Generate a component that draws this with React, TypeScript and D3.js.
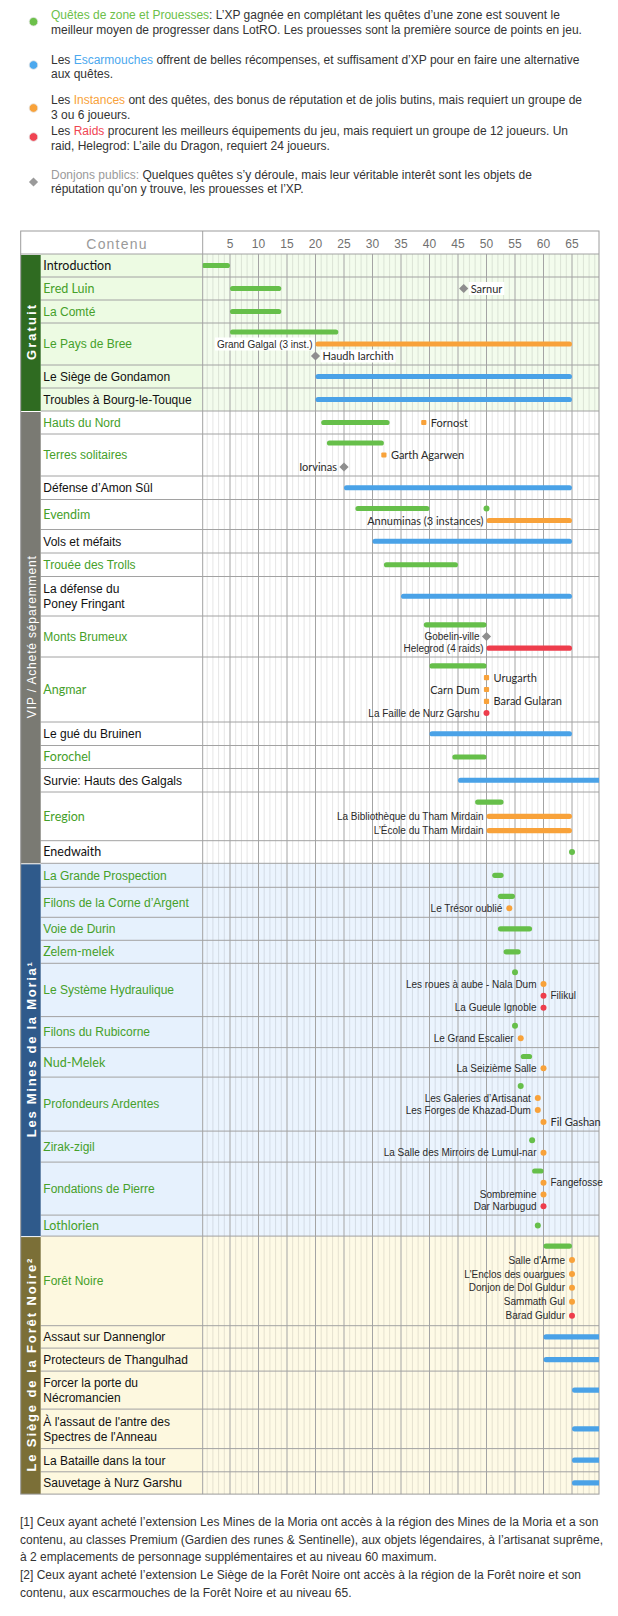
import React from 'react';
import * as d3 from 'd3';

// ---------- DATA ----------
const LEVEL_TICKS = [5, 10, 15, 20, 25, 30, 35, 40, 45, 50, 55, 60, 65];

const GROUPS = ['Gratuit', 'VIP / Acheté séparemment', 'Les Mines de la Moria¹', 'Le Siège de la Forêt Noire²'];

const ROWS = [
  'Introduction', 'Ered Luin', 'La Comté', 'Le Pays de Bree', 'Le Siège de Gondamon', 'Troubles à Bourg-le-Touque',
  'Hauts du Nord', 'Terres solitaires', 'Défense d’Amon Sûl', 'Evendim', 'Vols et méfaits', 'Trouée des Trolls',
  'La défense du\nPoney Fringant', 'Monts Brumeux', 'Angmar', 'Le gué du Bruinen', 'Forochel', 'Survie: Hauts des Galgals',
  'Eregion', 'Enedwaith',
  'La Grande Prospection', 'Filons de la Corne d’Argent', 'Voie de Durin', 'Zelem-melek', 'Le Système Hydraulique',
  'Filons du Rubicorne', 'Nud-Melek', 'Profondeurs Ardentes', 'Zirak-zigil', 'Fondations de Pierre', 'Lothlorien',
  'Forêt Noire', 'Assaut sur Dannenglor', 'Protecteurs de Thangulhad', 'Forcer la porte du\nNécromancien',
  "À l'assaut de l'antre des\nSpectres de l'Anneau", 'La Bataille dans la tour', 'Sauvetage à Nurz Garshu',
];
const ROW_GROUP = [0, 0, 0, 0, 0, 0, 1, 1, 1, 1, 1, 1, 1, 1, 1, 1, 1, 1, 1, 1, 2, 2, 2, 2, 2, 2, 2, 2, 2, 2, 2, 3, 3, 3, 3, 3, 3, 3];
// 1 = quest zone (green label), 0 = other content
const ROW_ZONE = [0, 1, 1, 1, 0, 0, 1, 1, 0, 1, 0, 1, 0, 1, 1, 0, 1, 0, 1, 0, 1, 1, 1, 1, 1, 1, 1, 1, 1, 1, 1, 1, 0, 0, 0, 0, 0, 0];

// [row, line, type, fromLevel, toLevel, label, side]
// Q quest, S skirmish, I instance, R raid, P public dungeon
type Item = [number, number, string, number, number, string, string];
const ITEMS: Item[] = [
  [0, 0, 'Q', 0, 5, '', ''],
  [1, 0, 'Q', 5, 14, '', ''],
  [1, 0, 'P', 46, 46, 'Sarnur', 'R'],
  [2, 0, 'Q', 5, 14, '', ''],
  [3, 0, 'Q', 5, 24, '', ''],
  [3, 1, 'I', 20, 65, 'Grand Galgal (3 inst.)', 'L'],
  [3, 2, 'P', 20, 20, 'Haudh Iarchith', 'R'],
  [4, 0, 'S', 20, 65, '', ''],
  [5, 0, 'S', 20, 65, '', ''],
  [6, 0, 'Q', 21, 33, '', ''],
  [6, 0, 'I', 39, 39, 'Fornost', 'R'],
  [7, 0, 'Q', 22, 32, '', ''],
  [7, 1, 'I', 32, 32, 'Garth Agarwen', 'R'],
  [7, 2, 'P', 25, 25, 'Iorvinas', 'L'],
  [8, 0, 'S', 25, 65, '', ''],
  [9, 0, 'Q', 27, 40, '', ''],
  [9, 0, 'Q', 50, 50, '', ''],
  [9, 1, 'I', 50, 65, 'Annuminas (3 instances)', 'L'],
  [10, 0, 'S', 30, 65, '', ''],
  [11, 0, 'Q', 32, 45, '', ''],
  [12, 0, 'S', 35, 65, '', ''],
  [13, 0, 'Q', 39, 50, '', ''],
  [13, 1, 'P', 50, 50, 'Gobelin-ville', 'L'],
  [13, 2, 'R', 50, 65, 'Helegrod (4 raids)', 'L'],
  [14, 0, 'Q', 40, 50, '', ''],
  [14, 1, 'I', 50, 50, 'Urugarth', 'R'],
  [14, 2, 'I', 50, 50, 'Carn Dum', 'L'],
  [14, 3, 'I', 50, 50, 'Barad Gularan', 'R'],
  [14, 4, 'R', 50, 50, 'La Faille de Nurz Garshu', 'L'],
  [15, 0, 'S', 40, 65, '', ''],
  [16, 0, 'Q', 44, 50, '', ''],
  [17, 0, 'S', 45, 72, '', ''],
  [18, 0, 'Q', 48, 53, '', ''],
  [18, 1, 'I', 50, 65, 'La Bibliothèque du Tham Mirdain', 'L'],
  [18, 2, 'I', 50, 65, 'L’École du Tham Mirdain', 'L'],
  [19, 0, 'Q', 65, 65, '', ''],
  [20, 0, 'Q', 51, 53, '', ''],
  [21, 0, 'Q', 52, 55, '', ''],
  [21, 1, 'I', 54, 54, 'Le Trésor oublié', 'L'],
  [22, 0, 'Q', 52, 58, '', ''],
  [23, 0, 'Q', 53, 56, '', ''],
  [24, 0, 'Q', 55, 55, '', ''],
  [24, 1, 'I', 60, 60, 'Les roues à aube - Nala Dum', 'L'],
  [24, 2, 'R', 60, 60, 'Filikul', 'R'],
  [24, 3, 'R', 60, 60, 'La Gueule Ignoble', 'L'],
  [25, 0, 'Q', 55, 55, '', ''],
  [25, 1, 'I', 56, 56, 'Le Grand Escalier', 'L'],
  [26, 0, 'Q', 56, 58, '', ''],
  [26, 1, 'I', 60, 60, 'La Seizième Salle', 'L'],
  [27, 0, 'Q', 56, 56, '', ''],
  [27, 1, 'I', 59, 59, 'Les Galeries d’Artisanat', 'L'],
  [27, 2, 'I', 59, 59, 'Les Forges de Khazad-Dum', 'L'],
  [27, 3, 'I', 60, 60, 'Fil Gashan', 'R'],
  [28, 0, 'Q', 58, 58, '', ''],
  [28, 1, 'I', 60, 60, 'La Salle des Mirroirs de Lumul-nar', 'L'],
  [29, 0, 'Q', 58, 60, '', ''],
  [29, 1, 'I', 60, 60, 'Fangefosse', 'R'],
  [29, 2, 'I', 60, 60, 'Sombremine', 'L'],
  [29, 3, 'R', 60, 60, 'Dar Narbugud', 'L'],
  [30, 0, 'Q', 59, 59, '', ''],
  [31, 0, 'Q', 60, 65, '', ''],
  [31, 1, 'I', 65, 65, "Salle d'Arme", 'L'],
  [31, 2, 'I', 65, 65, "L'Enclos des ouargues", 'L'],
  [31, 3, 'I', 65, 65, 'Donjon de Dol Guldur', 'L'],
  [31, 4, 'I', 65, 65, 'Sammath Gul', 'L'],
  [31, 5, 'R', 65, 65, 'Barad Guldur', 'L'],
  [32, 0, 'S', 60, 72, '', ''],
  [33, 0, 'S', 60, 72, '', ''],
  [34, 0, 'S', 65, 72, '', ''],
  [35, 0, 'S', 65, 72, '', ''],
  [36, 0, 'S', 65, 72, '', ''],
  [37, 0, 'S', 65, 72, '', ''],
];

const LEGEND_BEFORE = ['', 'Les ', 'Les ', 'Les ', ''];
const LEGEND_KEYS = ['Quêtes de zone et Prouesses', 'Escarmouches', 'Instances', 'Raids', 'Donjons publics:'];
const LEGEND_AFTER = [
  ': L’XP gagnée en complétant les quêtes d’une zone est souvent le',
  ' offrent de belles récompenses, et suffisament d’XP pour en faire une alternative',
  ' ont des quêtes, des bonus de réputation et de jolis butins, mais requiert un groupe de',
  ' procurent les meilleurs équipements du jeu, mais requiert un groupe de 12 joueurs. Un',
  ' Quelques quêtes s’y déroule, mais leur véritable interêt sont les objets de',
];
const LEGEND_SECOND = [
  'meilleur moyen de progresser dans LotRO. Les prouesses sont la première source de points en jeu.',
  'aux quêtes.',
  '3 ou 6 joueurs.',
  'raid, Helegrod: L’aile du Dragon, requiert 24 joueurs.',
  'réputation qu’on y trouve, les prouesses et l’XP.',
];
const LEGEND_TYPES = ['Q', 'S', 'I', 'R', 'P'];

const FOOTNOTES = [
  '[1] Ceux ayant acheté l’extension Les Mines de la Moria ont accès à la région des Mines de la Moria et a son',
  'contenu, au classes Premium (Gardien des runes & Sentinelle), aux objets légendaires, à l’artisanat suprême,',
  'à 2 emplacements de personnage supplémentaires et au niveau 60 maximum.',
  '[2] Ceux ayant acheté l’extension Le Siège de la Forêt Noire ont accès à la région de la Forêt noire et son',
  'contenu, aux escarmouches de la Forêt Noire et au niveau 65.',
];

// ---------- LAYOUT / STYLE ----------
const ROW_HEIGHTS = [23, 23, 23, 42, 23, 23, 23, 42, 23.5, 30, 23.5, 23.5, 39.5, 41, 65, 23.5, 23, 23.5, 48.7, 22.6,
  24, 30, 23, 23, 53.3, 31, 29.5, 54, 31, 53, 21, 89.6, 22.4, 23, 38, 39.5, 23.2, 22.3];
const GROUP_LABEL_LEN = [55, 162, 175, 213];
const GROUP_COL = ['#2f6b21', '#7a7a73', '#2f5a8b', '#7b6f37'];
const GROUP_LABEL_BG = ['#edfbe3', '#ffffff', '#e6f1fd', '#fdf8df'];
const GROUP_CHART_BG = ['#f3fced', '#ffffff', '#ebf4fe', '#fefae6'];
const TYPE_COL: Record<string, string> = { Q: '#66bf4a', S: '#4aa2e7', I: '#f8a23a', R: '#ee3d4c', P: '#8e8e8e' };
const LEGEND_KEY_COL = ['#6cc04a', '#4ba8ee', '#f8a23a', '#f04452', '#9a9a9a'];
const ALT_ROW_LABELS = new Set(['Introduction', 'Ered Luin', 'Evendim', 'Angmar', 'Forochel', 'Eregion', 'Enedwaith', 'Zelem-melek', 'Nud-Melek', 'Lothlorien']);
const ALT_ITEM_LABELS = new Set(['Sarnur', 'Haudh Iarchith', 'Fornost', 'Garth Agarwen', 'Iorvinas', 'Annuminas (3 instances)', 'Urugarth', 'Carn Dum', 'Barad Gularan', 'Fil Gashan']);

const FONT = '"Liberation Sans", Arial, sans-serif';
const ALT = 'Lato, "DejaVu Sans", sans-serif';

const T_LEFT = 20.7, T_RIGHT = 599, T_TOP = 231, HEAD_H = 23, GROUP_R = 40.7, LABEL_R = 202.7;

let _ctx: CanvasRenderingContext2D | null = null;
function measure(t: string, font: string) {
  if (!_ctx && typeof document !== 'undefined') _ctx = document.createElement('canvas').getContext('2d');
  if (!_ctx) return t.length * 5;
  _ctx.font = font;
  return _ctx.measureText(t).width;
}

function Diamond({ cx, cy, s, fill }: { cx: number; cy: number; s: number; fill: string }) {
  return <rect x={cx - s / 2} y={cy - s / 2} width={s} height={s} fill={fill} transform={`rotate(45 ${cx} ${cy})`} />;
}

export default function App() {
  const x = d3.scaleLinear().domain([0, 70]).range([201.5, 600.5]);
  const bodyTop = T_TOP + HEAD_H;
  const tops = [bodyTop, ...Array.from(d3.cumsum(ROW_HEIGHTS)).map((v) => bodyTop + v)];
  const bottom = tops[tops.length - 1];

  const linesPerRow = ROWS.map((_, i) => (d3.max(ITEMS.filter((it) => it[0] === i), (it) => it[1]) ?? 0) + 1);
  const itemY = (row: number, line: number) => {
    const h = ROW_HEIGHTS[row];
    const n = linesPerRow[row];
    const pitch = (h - 6) / n;
    return tops[row] + h / 2 + (line - (n - 1) / 2) * pitch;
  };

  const groupSpans = GROUPS.map((_, g) => {
    const idx = ROW_GROUP.map((v, i) => (v === g ? i : -1)).filter((i) => i >= 0);
    return [tops[idx[0]], tops[idx[idx.length - 1] + 1]];
  });

  const minorLevels = d3.range(1, 70).filter((l) => l % 5 !== 0);
  const majorLevels = d3.range(5, 70, 5);

  const legendCenters = [15, 59.3, 100, 131, 174.3];
  const legendDots = [21.7, 65, 108, 137, 182];
  const footY = [1522, 1539.5, 1557, 1575, 1592.5];

  return (
    <svg width={618} height={1616} viewBox="0 0 618 1616" style={{ position: 'absolute', left: 0, top: 0, background: '#fff' }}>
      <defs>
        <clipPath id="chartClip">
          <rect x={LABEL_R} y={bodyTop} width={T_RIGHT - LABEL_R} height={bottom - bodyTop} />
        </clipPath>
      </defs>
      <rect x={0} y={0} width={618} height={1616} fill="#fff" />

      {/* Legend */}
      {LEGEND_KEYS.map((k, i) => {
        const cy = legendDots[i];
        const t = LEGEND_TYPES[i];
        return (
          <g key={'lg' + i}>
            {t === 'P' ? (
              <Diamond cx={33.5} cy={cy} s={6.5} fill="#9a9a9a" />
            ) : (
              <circle cx={33.5} cy={cy} r={4.3} fill={LEGEND_KEY_COL[i]} stroke="#e4e4e4" strokeWidth={0.8} />
            )}
            <text x={51} y={legendCenters[i] + 4.3} fontFamily={FONT} fontSize={12} fill="#333">
              {LEGEND_BEFORE[i]}
              <tspan fill={LEGEND_KEY_COL[i]}>{k}</tspan>
              {LEGEND_AFTER[i]}
            </text>
            <text x={51} y={legendCenters[i] + 14.3 + 4.3} fontFamily={FONT} fontSize={12} fill="#333">
              {LEGEND_SECOND[i]}
            </text>
          </g>
        );
      })}

      {/* Header */}
      <rect x={T_LEFT} y={T_TOP} width={T_RIGHT - T_LEFT} height={HEAD_H} fill="#fff" />
      <text x={117} y={T_TOP + 17.5} textAnchor="middle" fontFamily={FONT} fontSize={14} fill="#9a9a9a" letterSpacing={1.2}>
        Contenu
      </text>
      {LEVEL_TICKS.map((t) => (
        <text key={'tk' + t} x={x(t)} y={T_TOP + 17} textAnchor="middle" fontFamily={FONT} fontSize={12} fill="#707070">
          {t}
        </text>
      ))}

      {/* Row backgrounds */}
      {ROWS.map((_, i) => (
        <g key={'bg' + i}>
          <rect x={GROUP_R} y={tops[i]} width={LABEL_R - GROUP_R} height={ROW_HEIGHTS[i]} fill={GROUP_LABEL_BG[ROW_GROUP[i]]} />
          <rect x={LABEL_R} y={tops[i]} width={T_RIGHT - LABEL_R} height={ROW_HEIGHTS[i]} fill={GROUP_CHART_BG[ROW_GROUP[i]]} />
        </g>
      ))}

      {/* Grid */}
      {minorLevels.map((l) => (
        <line key={'mn' + l} x1={x(l)} x2={x(l)} y1={bodyTop} y2={bottom} stroke="#000" strokeOpacity={0.1} strokeWidth={1} />
      ))}
      {majorLevels.map((l) => (
        <line key={'mj' + l} x1={x(l)} x2={x(l)} y1={bodyTop} y2={bottom} stroke="#a4a4a4" strokeWidth={1} />
      ))}

      {/* Row separators */}
      {tops.slice(1, -1).map((y, i) => (
        <line key={'rs' + i} x1={GROUP_R} x2={T_RIGHT} y1={y} y2={y} stroke="#a2a2a2" strokeWidth={1} />
      ))}
      <line x1={T_LEFT} x2={T_RIGHT} y1={bodyTop} y2={bodyTop} stroke="#a2a2a2" strokeWidth={1} />
      <line x1={LABEL_R} x2={LABEL_R} y1={T_TOP} y2={bottom} stroke="#a2a2a2" strokeWidth={1} />

      {/* Group columns */}
      {GROUPS.map((gname, g) => {
        const [y0, y1] = groupSpans[g];
        const cy = (y0 + y1) / 2;
        return (
          <g key={'gr' + g}>
            <rect x={T_LEFT} y={y0 + 1} width={GROUP_R - T_LEFT} height={y1 - y0 - 1} fill={GROUP_COL[g]} />
            <text
              transform={`translate(35.6 ${cy}) rotate(-90)`}
              textAnchor="middle"
              fontFamily={FONT}
              fontSize={g === 1 ? 12 : 13}
              fontWeight={g === 1 ? 'normal' : 'bold'}
              fill="#fff"
              textLength={GROUP_LABEL_LEN[g]}
              lengthAdjust="spacing"
            >
              {gname}
            </text>
          </g>
        );
      })}

      {/* Outer border */}
      <rect x={T_LEFT} y={T_TOP} width={T_RIGHT - T_LEFT} height={bottom - T_TOP} fill="none" stroke="#9c9c9c" strokeWidth={1} />

      {/* Row labels */}
      {ROWS.map((name, i) => {
        const parts = name.split('\n');
        const alt = ALT_ROW_LABELS.has(name);
        const cy = tops[i] + ROW_HEIGHTS[i] / 2;
        return (
          <text
            key={'rl' + i}
            fontFamily={alt ? ALT : FONT}
            fontSize={alt ? 12.5 : 12}
            fill={ROW_ZONE[i] ? '#45a02a' : '#111'}
          >
            {parts.map((p, j) => (
              <tspan key={j} x={43.3} y={cy + 4.3 + (j - (parts.length - 1) / 2) * 15}>
                {p}
              </tspan>
            ))}
          </text>
        );
      })}

      {/* Items */}
      <g clipPath="url(#chartClip)">
        {ITEMS.map((it, k) => {
          const [row, line, type, from, to] = it;
          const y = itemY(row, line);
          const col = TYPE_COL[type];
          if (to > from) {
            return <rect key={'it' + k} x={x(from)} y={y - 2.6} width={x(to) - x(from)} height={5.2} rx={2.6} fill={col} />;
          }
          const cx = x(from);
          if (type === 'P') return <Diamond key={'it' + k} cx={cx} cy={y} s={6.5} fill={col} />;
          if (type === 'I' && ROW_GROUP[row] === 1)
            return <rect key={'it' + k} x={cx - 2.6} y={y - 2.6} width={5.2} height={5.2} rx={1} fill={col} />;
          return <circle key={'it' + k} cx={cx} cy={y} r={3} fill={col} />;
        })}
      </g>

      {/* Item labels */}
      {ITEMS.filter((it) => it[5]).map((it, k) => {
        const [row, line, , from, to, label, side] = it;
        const y = itemY(row, line);
        const bar = to > from;
        const alt = ALT_ITEM_LABELS.has(label);
        const fs = alt ? 11 : 10;
        const fam = alt ? ALT : FONT;
        const tx = side === 'L' ? x(from) - (bar ? 3 : 7) : (bar ? x(to) + 3 : x(from) + 7);
        const w = measure(label, `${fs}px ${fam}`);
        const bx = side === 'L' ? tx - w - 2 : tx - 2;
        return (
          <g key={'lb' + k}>
            {ROW_GROUP[row] === 0 && <rect x={bx} y={y - 6.5} width={w + 4} height={13} fill="#fff" />}
            <text x={tx} y={y + (alt ? 4 : 3.6)} textAnchor={side === 'L' ? 'end' : 'start'} fontFamily={fam} fontSize={fs} fill="#2a2a2a">
              {label}
            </text>
          </g>
        );
      })}

      {/* Footnotes */}
      {FOOTNOTES.map((f, i) => (
        <text key={'fn' + i} x={20} y={footY[i] + 4.3} fontFamily={FONT} fontSize={12} fill="#333">
          {f}
        </text>
      ))}
    </svg>
  );
}
